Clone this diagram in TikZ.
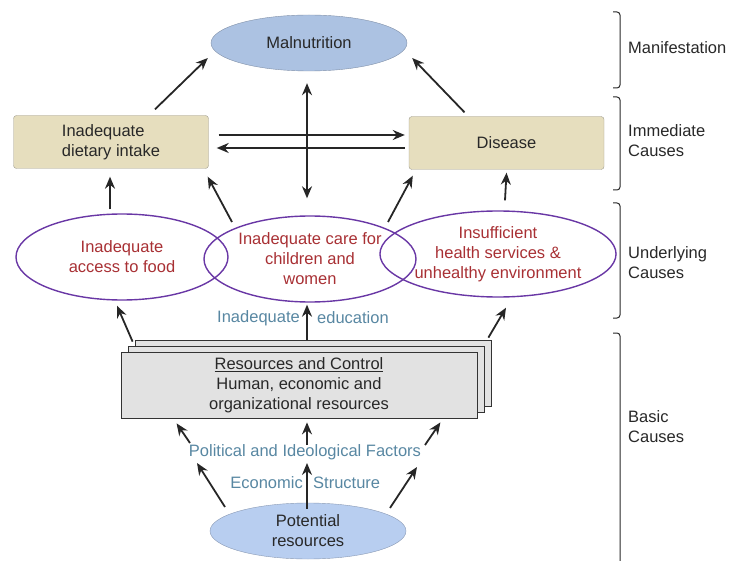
\documentclass[tikz,border=0pt]{standalone}
\usepackage{fontspec}
\setmainfont{Liberation Sans}
\usetikzlibrary{arrows.meta,shapes.geometric,shadows}

\definecolor{tanfill}{RGB}{230,222,190}
\definecolor{tanline}{RGB}{160,158,145}
\definecolor{malblue}{RGB}{172,194,226}
\definecolor{potblue}{RGB}{184,206,240}
\definecolor{ringpurple}{RGB}{105,55,165}
\definecolor{causered}{RGB}{168,48,52}
\definecolor{factorteal}{RGB}{88,135,162}
\definecolor{resgrey}{RGB}{226,226,226}
\definecolor{labelgrey}{RGB}{40,40,40}

\begin{document}
\begin{tikzpicture}[x=1pt,y=-1pt,
    font=\fontsize{16.5}{20}\selectfont,
    >={Stealth[length=12pt,width=10pt]},
    arr/.style={->,line width=1.8pt,black!85},
    outcome/.style={ellipse,draw=#1!75!black,fill=#1,minimum width=196pt,minimum height=56pt,inner sep=0pt,text=labelgrey,align=center},
    cause/.style={ellipse,draw=ringpurple,line width=1.4pt,minimum width=212pt,minimum height=86pt,inner sep=0pt,text=causered,align=center},
    immediate/.style={rectangle,rounded corners=3pt,draw=tanline,fill=tanfill,minimum width=195pt,minimum height=53pt,inner sep=0pt,text=labelgrey},
    factor/.style={text=factorteal,inner sep=1pt},
    level/.style={anchor=west,align=left,text=labelgrey,inner sep=0pt},
    bracket/.style={draw=labelgrey,line width=1pt,rounded corners=3pt}]
    \useasboundingbox (0,0) rectangle (733,561);

    % Manifestation and immediate causes
    \node[outcome=malblue] (mal) at (309,43) {Malnutrition};
    \node[immediate,align=left] (diet) at (111,142) {Inadequate\\dietary intake};
    \node[immediate] (dis) at (506.5,143) {Disease};

    % Underlying causes
    \node[cause] (food) at (122,257) {Inadequate\\access to food};
    \node[cause] (care) at (310,259) {Inadequate care for\\children and\\women};
    \node[cause] (health) at (498,254) {Insufficient\\health services \&\\unhealthy environment};
    \node[factor,anchor=east] (eduL) at (301,318) {Inadequate};
    \node[factor,anchor=west] (eduR) at (316,318) {education};

    % Basic causes
    \node[rectangle,draw=black!80,fill=resgrey,line width=0.8pt,minimum width=356pt,minimum height=66pt,
          double copy shadow={shadow xshift=7pt,shadow yshift=6pt,fill=resgrey,draw=black!80},
          align=center,text=labelgrey] (res) at (299,385)
          {\underline{Resources and Control}\\Human, economic and\\organizational resources};
    \node[factor] (pol) at (305,452) {Political and Ideological Factors};
    \node[factor,anchor=east] (ecoL) at (304,483) {Economic};
    \node[factor,anchor=west] (ecoR) at (312,483) {Structure};
    \node[outcome=potblue] (pot) at (308,531) {Potential\\resources};

    % arrows up to malnutrition
    \draw[arr] ([xshift=44pt,yshift=6pt]diet.north) -- ([xshift=-3pt,yshift=-15pt]mal.west);
    \draw[arr] ([xshift=-42pt,yshift=4pt]dis.north) -- ([xshift=5pt,yshift=-15pt]mal.east);
    \draw[arr] ([xshift=10pt,yshift=7pt]diet.east) -- ([xshift=-4pt,yshift=8pt]dis.west);
    \draw[arr] ([xshift=-4pt,yshift=-5pt]dis.west) -- ([xshift=8pt,yshift=-6pt]diet.east);
    \draw[arr,<->] ([xshift=-3pt,yshift=17pt]care.north) -- ([xshift=-2pt,yshift=-12pt]mal.south);

    % arrows up to immediate causes
    \draw[arr] ([xshift=-12pt,yshift=4pt]food.north) -- ([xshift=-1pt,yshift=-8pt]diet.south);
    \draw[arr] ([xshift=-78pt,yshift=37pt]care.center) -- ([xshift=-1pt,yshift=-8pt]diet.south east);
    \draw[arr] ([xshift=78pt,yshift=37pt]care.center) -- ([xshift=4pt,yshift=-6pt]dis.south west);
    \draw[arr] ([xshift=7pt,yshift=10pt]health.north) -- ([yshift=-3pt]dis.south);

    % arrows up to underlying causes
    \draw[arr] ([xshift=12pt,yshift=10pt]res.north west) -- ([xshift=-5pt,yshift=-5pt]food.south);
    \draw[arr] ([xshift=8pt,yshift=12pt]res.north) -- ([xshift=-3pt,yshift=-2pt]care.south);
    \draw[arr] ([xshift=11pt,yshift=14pt]res.north east) -- ([xshift=8pt,yshift=-10pt]health.south);

    % arrows up from potential resources
    \draw[arr] ([xshift=-83pt,yshift=24pt]pot.center) -- ([xshift=-108pt,yshift=-11pt]pol.center);
    \draw[arr] ([xshift=-1pt,yshift=-6pt]pot.north) -- ([xshift=2pt,yshift=-11pt]pol.center);
    \draw[arr] ([xshift=82pt,yshift=23pt]pot.center) -- ([xshift=112pt,yshift=-15pt]pol.center);
    \draw[arr] ([xshift=-115pt,yshift=9pt]pol.center) -- ([xshift=56pt,yshift=-5pt]res.south west);
    \draw[arr] ([xshift=2pt,yshift=7pt]pol.center) -- ([xshift=8pt,yshift=-4pt]res.south);
    \draw[arr] ([xshift=120pt,yshift=7pt]pol.center) -- ([xshift=-37pt,yshift=-4pt]res.south east);

    % levels on the right
    \draw[bracket] (613,12) -- (620,12) -- (620,88) -- (613,88);
    \draw[bracket] (613,97) -- (620,97) -- (620,190) -- (613,190);
    \draw[bracket] (613,203) -- (620,203) -- (620,318) -- (613,318);
    \draw[bracket] (613,333) -- (620,333) -- (620,575);
    \node[level] (lvl1) at (628,48) {Manifestation};
    \node[level] (lvl2) at (628,141) {Immediate\\Causes};
    \node[level] (lvl3) at (628,263) {Underlying\\Causes};
    \node[level] (lvl4) at (628,427) {Basic\\Causes};
\end{tikzpicture}
\end{document}
